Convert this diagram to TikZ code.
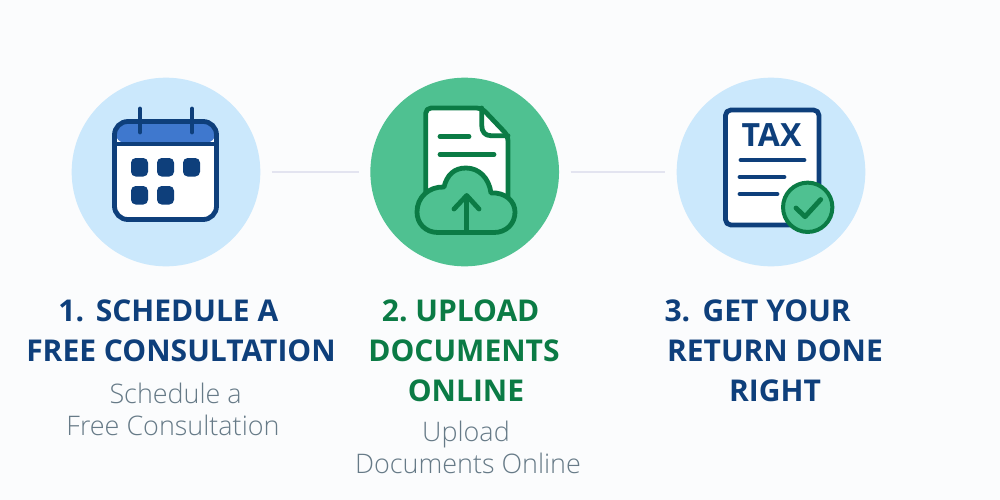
\documentclass[tikz,border=0pt]{standalone}
\usepackage{fontspec}
\setmainfont{Open Sans}
\newfontfamily\subfont{Open Sans Light}
\definecolor{pagebg}{HTML}{FBFCFD}
\definecolor{paleblue}{HTML}{CBE8FC}
\definecolor{navy}{HTML}{0E3F7B}
\definecolor{midblue}{HTML}{3F78CE}
\definecolor{leaf}{HTML}{4FC191}
\definecolor{forest}{HTML}{0B7B45}
\definecolor{slate}{HTML}{667A87}
\definecolor{linkline}{HTML}{E3E4F0}
\tikzset{
  stepdisc/.style={circle,minimum size=141.5pt,inner sep=0pt,outer sep=0pt},
  link/.style={linkline,line width=2.2pt,shorten <=8.6pt,shorten >=8.8pt},
  head/.style={font=\bfseries\fontsize{22.5}{30}\selectfont,align=center},
  sub/.style={font=\subfont\fontsize{20.2}{24}\selectfont,align=center,text=slate},
  ink/.style={line width=3.6pt,line cap=round,line join=round}
}
\begin{document}
\begin{tikzpicture}[x=0.75pt,y=-0.75pt]
  \useasboundingbox[fill=pagebg] (0,0) rectangle (1000,500);
  \node[stepdisc,fill=paleblue] (schedule) at (166,172) {};
  \node[stepdisc,fill=leaf] (upload) at (464.7,172) {};
  \node[stepdisc,fill=paleblue] (taxdone) at (771,172) {};
  \draw[link] (schedule) -- (upload);
  \draw[link] (upload) -- (taxdone);
  % calendar
  \fill[white,rounded corners=10pt] (114.5,121.5) rectangle (216.5,219.5);
  \fill[midblue,rounded corners=10pt] (114.5,144) -- (114.5,121.5) -- (216.5,121.5) -- (216.5,144) -- cycle;
  \draw[navy,ink,rounded corners=10pt] (114.5,121.5) rectangle (216.5,219.5);
  \draw[navy,ink] (114.5,144) -- (216.5,144);
  \draw[navy,ink] (140,109) -- (140,132);
  \draw[navy,ink] (192,109) -- (192,132);
  \foreach \px/\py in {131/158,157/158,183/158,131/186,157/186}
    \fill[navy,rounded corners=3.5pt] (\px,\py) rectangle ++(17,18.5);
  % document and cloud
  \fill[white,rounded corners=4pt] (425.7,205) -- (425.7,108) -- (481.7,108) -- (508,135.7) -- (508,205) -- cycle;
  \draw[forest,ink,rounded corners=4pt] (425.7,192) -- (425.7,108) -- (481.7,108) -- (508,135.7) -- (508,198);
  \draw[forest,ink] (481.7,108) -- (481.7,125) .. controls (481.7,132) and (485,135.7) .. (491,135.7) -- (508,135.7);
  \draw[forest,ink] (440,136.7) -- (469,136.7);
  \draw[forest,ink] (440,154.5) -- (494,154.5);
  \draw[forest,ink,fill=leaf] (438,232.5) .. controls (425,232.5) and (417,223) .. (417,212)
    .. controls (417,197) and (429,186.5) .. (444,187)
    .. controls (447,175) and (454,168) .. (466,168)
    .. controls (479,168) and (489,178) .. (491,193)
    .. controls (505,192) and (515,201) .. (515,212)
    .. controls (515,224) and (506,232.5) .. (494,232.5) -- cycle;
  \draw[forest,ink] (466.7,232) -- (466.7,196);
  \draw[forest,ink] (454,209) -- (466.7,195.5) -- (479,209);
  % tax form
  \draw[navy,ink,fill=white,rounded corners=4pt] (725.5,110) rectangle (819,225);
  \node[text=navy,font=\bfseries\fontsize{24}{24}\selectfont,inner sep=0pt] (taxword) at (771.5,135) {TAX};
  \draw[navy,ink] (741,160) -- (804,160);
  \draw[navy,ink] (740,177) -- (784,177);
  \draw[navy,ink] (740,194) -- (777,194);
  \node[circle,draw=forest,fill=leaf,line width=3pt,minimum size=37pt,inner sep=0pt] (checkmark) at (807.7,207.3) {};
  \draw[forest,ink] (796,208) -- (805,216.7) -- (820.7,199.5);
  % labels
  \node[head,text=navy] (schedulehead) at (181,331) {1.\hspace{1pt} SCHEDULE A\hspace*{19pt}\\FREE CONSULTATION};
  \node[sub] (schedulesub) at (173,409) {\hspace*{4pt}Schedule a\\Free Consultation};
  \node[head,text=forest] (uploadhead) at (464,351) {2.\hspace{-2pt} UPLOAD\hspace*{5pt}\\DOCUMENTS\\\hspace*{3pt}ONLINE};
  \node[sub] (uploadsub) at (468,447) {Upload\hspace*{3pt}\\Documents Online};
  \node[head,text=navy] (taxhead) at (775,351) {3.\hspace{1.5pt} GET YOUR\hspace*{26pt}\\RETURN DONE\\RIGHT};
\end{tikzpicture}
\end{document}
